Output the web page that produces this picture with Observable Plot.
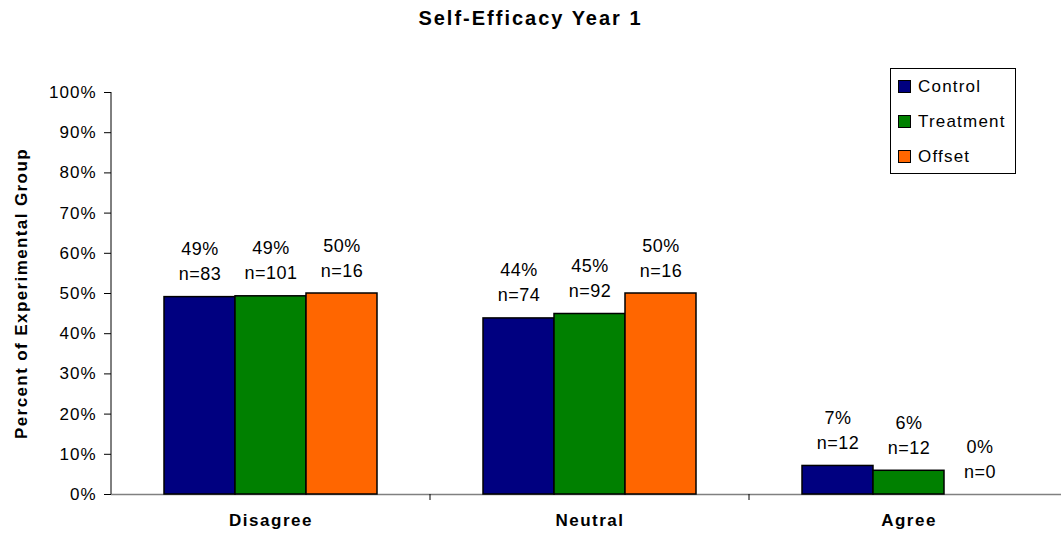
<!DOCTYPE html>
<html>
<head>
<meta charset="utf-8">
<script src="https://cdn.jsdelivr.net/npm/d3@7"></script>
<script src="https://cdn.jsdelivr.net/npm/@observablehq/plot@0.6"></script>
<style>
  html, body { margin: 0; padding: 0; background: #fff; }
  #wrap { position: relative; width: 1061px; height: 537px; font-family: "Liberation Sans", Arial, sans-serif; color: #000; }
  #title { height: 46px; box-sizing: border-box; padding-top: 8px; text-align: center; font-size: 20px; line-height: 20px; font-weight: bold; letter-spacing: 2px; }
  #legend { position: absolute; left: 890px; top: 68px; width: 124px; height: 104px; border: 1px solid #000; background: #fff; }
  #legend .row { display: flex; align-items: center; height: 35px; font-size: 17px; letter-spacing: 1.2px; }
  #legend .sw { width: 11px; height: 11px; border: 1px solid #000; margin-left: 7px; margin-right: 7px; }
  svg { display: block; }
</style>
</head>
<body>
<div id="wrap">
  <div id="title">Self-Efficacy Year 1</div>
  <div id="chart"></div>
  <div id="legend"></div>
</div>
<script>
// Response categories and experimental groups
const categories = ["Disagree", "Neutral", "Agree"];
const groups = ["Control", "Treatment", "Offset"];
const groupColors = ["#000080", "#008000", "#FF6600"];

// Share of each group giving each response (Disagree, Neutral, Agree)
const controlPct = [0.491, 0.438, 0.071];
const treatmentPct = [0.493, 0.449, 0.059];
const offsetPct = [0.500, 0.500, 0.000];

// Respondent counts behind each share
const controlN = [83, 74, 12];
const treatmentN = [101, 92, 12];
const offsetN = [16, 16, 0];

const yTicks = [0, 0.1, 0.2, 0.3, 0.4, 0.5, 0.6, 0.7, 0.8, 0.9, 1.0];

const pctByGroup = [controlPct, treatmentPct, offsetPct];
const nByGroup = [controlN, treatmentN, offsetN];
const rows = categories.flatMap((category, i) =>
  groups.map((group, j) => ({category, group, pct: pctByGroup[j][i], n: nByGroup[j][i]}))
);

const pctFormat = d3.format(".0%");
const font = "'Liberation Sans', Arial, sans-serif";

const chart = Plot.plot({
  width: 1061,
  height: 491,
  marginTop: 46,
  marginBottom: 43,
  marginLeft: 110,
  marginRight: -7,
  style: {fontFamily: font, fontSize: "17px", color: "#000", background: "#fff", overflow: "visible"},
  fx: {domain: categories, padding: 0},
  x: {domain: groups, paddingInner: 0, paddingOuter: 0.739, axis: null},
  y: {domain: [0, 1]},
  color: {domain: groups, range: groupColors},
  marks: [
    Plot.axisY({
      ticks: yTicks,
      tickFormat: pctFormat,
      tickSize: 7,
      tickPadding: 8,
      fontSize: 17,
      label: "Percent of Experimental Group",
      labelAnchor: "center",
      labelArrow: "none",
      labelOffset: 97
    }),
    Plot.axisFx({anchor: "bottom", tickSize: 0, tickPadding: 19, label: null, fontSize: 17, fontWeight: "bold"}),
    Plot.ruleY([0], {stroke: "#808080", strokeWidth: 1.5}),
    Plot.barY(rows, {fx: "category", x: "group", y: "pct", fill: "group", stroke: "#000", strokeWidth: 1.5}),
    Plot.text(rows, {
      fx: "category",
      x: "group",
      y: "pct",
      text: d => `${pctFormat(d.pct)}\nn=${d.n}`,
      lineAnchor: "middle",
      lineHeight: 1.39,
      dy: -37.5,
      fontSize: 18,
      fill: "#000"
    })
  ]
});

document.getElementById("chart").appendChild(chart);

// Axis styling: bold rotated label, spaced tick text
const svg = d3.select(chart);
svg.selectAll('[aria-label="y-axis label"] text, [aria-label="y-axis label"]')
  .attr("font-weight", "bold").style("letter-spacing", "1.4px");
svg.selectAll('[aria-label="y-axis tick label"] text').style("letter-spacing", "1px");
svg.selectAll('[aria-label="fx-axis tick label"] text').style("letter-spacing", "1.5px");
svg.selectAll('[aria-label="text"] text').style("letter-spacing", "0.5px");

// Vertical y-axis line and category separator ticks on the baseline
const fx = chart.scale("fx");
const y = chart.scale("y");
const y0 = y.apply(0);
const left = fx.apply(categories[0]);
svg.append("line")
  .attr("x1", left).attr("x2", left)
  .attr("y1", y.apply(1)).attr("y2", y0)
  .attr("stroke", "#000").attr("stroke-width", 1);
categories.slice(1).forEach(c => {
  const x = fx.apply(c);
  svg.append("line")
    .attr("x1", x).attr("x2", x)
    .attr("y1", y0).attr("y2", y0 + 6)
    .attr("stroke", "#000").attr("stroke-width", 1);
});

// Group legend
const legend = d3.select("#legend");
groups.forEach((g, i) => {
  const row = legend.append("div").attr("class", "row");
  row.append("div").attr("class", "sw").style("background", groupColors[i]);
  row.append("span").text(g);
});
</script>
</body>
</html>
